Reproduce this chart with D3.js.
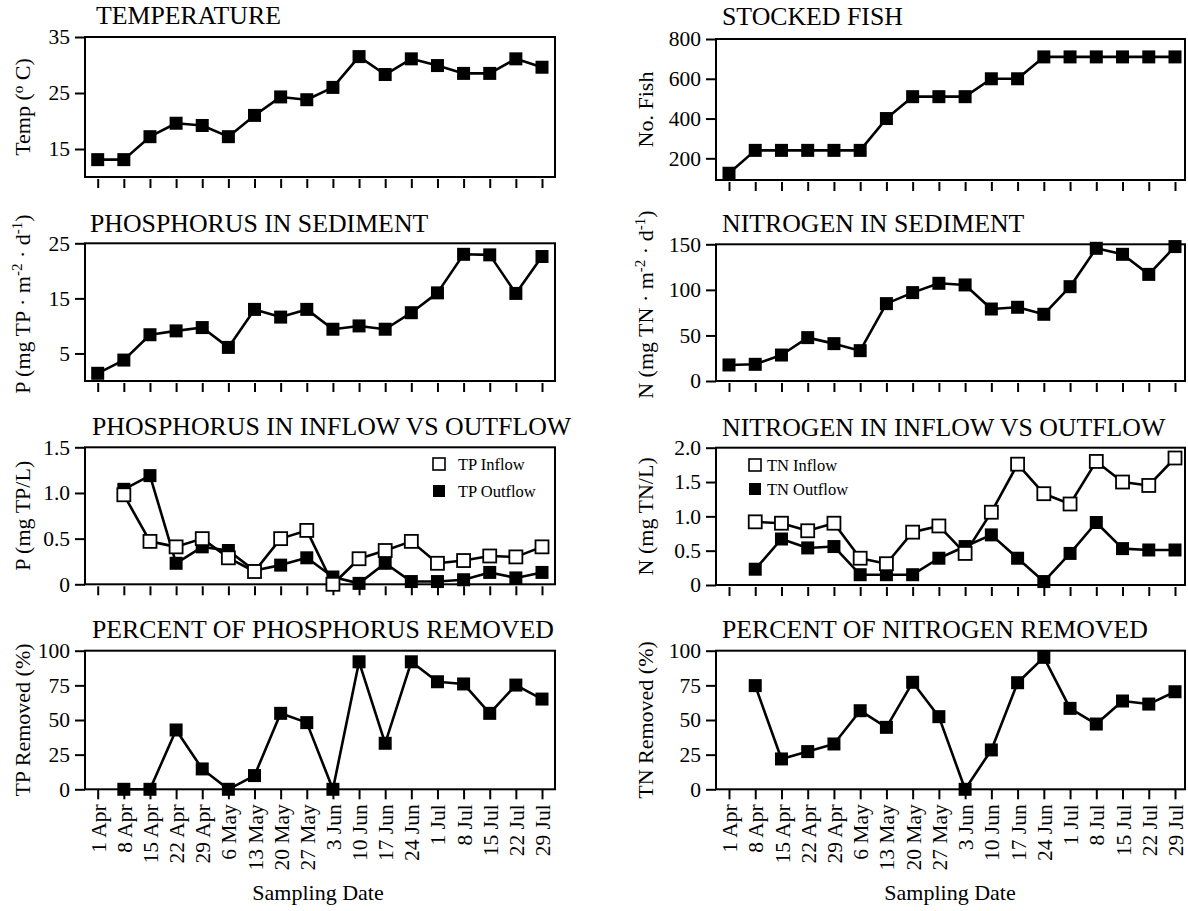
<!DOCTYPE html>
<html>
<head>
<meta charset="utf-8">
<script src="https://cdn.jsdelivr.net/npm/d3@7"></script>
<style>
  html, body { margin: 0; padding: 0; background: #fff; }
  svg { display: block; }
  text { font-family: "Liberation Serif", "Times New Roman", serif; fill: #000; }
</style>
</head>
<body>
<svg id="chart" width="1188" height="911"></svg>
<script>
// ---------- DATA ----------
const dates = ["1 Apr","8 Apr","15 Apr","22 Apr","29 Apr","6 May","13 May","20 May","27 May","3 Jun","10 Jun","17 Jun","24 Jun","1 Jul","8 Jul","15 Jul","22 Jul","29 Jul"];
const datesFrom8Apr = dates.slice(1);

const temperature = [13.1,13.1,17.2,19.6,19.2,17.2,21.0,24.3,23.8,26.0,31.5,28.3,31.1,29.9,28.5,28.5,31.1,29.6];
const stockedFish = [125,240,240,240,240,240,400,510,510,510,600,600,710,710,710,710,710,710];
const pSediment = [1.4,3.8,8.4,9.1,9.7,6.1,13.0,11.6,13.0,9.4,10.0,9.4,12.4,16.0,23.0,22.9,15.9,22.6];
const nSediment = [17.6,18.3,28.5,47.6,41,33.3,84.9,97,107.2,105.4,79,80.9,73.2,103.5,145.6,139,117,147.5];

const tpInflow  = [0.98,0.47,0.41,0.50,0.29,0.14,0.50,0.59,0.00,0.28,0.37,0.47,0.23,0.26,0.31,0.30,0.41];
const tpOutflow = [1.04,1.19,0.23,0.41,0.37,0.15,0.21,0.29,0.08,0.01,0.23,0.03,0.03,0.05,0.13,0.07,0.13];
const tnInflow  = [0.92,0.90,0.79,0.90,0.39,0.31,0.77,0.86,0.46,1.06,1.76,1.33,1.18,1.80,1.50,1.45,1.85];
const tnOutflow = [0.23,0.67,0.54,0.56,0.15,0.15,0.15,0.39,0.56,0.73,0.39,0.05,0.46,0.91,0.53,0.51,0.51];

const tpRemoved = [0,0,42.8,14.7,0,9.9,54.8,48.1,0,92,33.2,92,77.6,76,54.8,75.2,65.1];
const tnRemoved = [74.8,21.9,27.2,32.7,56.7,44.7,77.2,52.4,0,28.4,76.9,95.2,58.4,47.1,63.7,61.5,70.4];

const yTicksTemp = [15,25,35];
const yTicksFish = [200,400,600,800];
const yTicksPSed = [5,15,25];
const yTicksNSed = [0,50,100,150];
const yTicksTP = [0,0.5,1.0,1.5];
const yTicksTN = [0,0.5,1.0,1.5,2.0];
const yTicksPct = [0,25,50,75,100];

// ---------- LAYOUT ----------
const svg = d3.select("#chart");
const cols = {
  left:  { frameL: 85,  frameR: 555,  x0: 97.7, x1: 542, title: 92,  ylab: 30 },
  right: { frameL: 716, frameR: 1185, x0: 729,  x1: 1175, title: 722, ylab: 653 }
};

function fmtDec(d) { return d === 0 ? "0" : d3.format(".1f")(d); }

function panel(opts) {
  const c = cols[opts.col];
  const g = svg.append("g");
  const x = d3.scalePoint().domain(dates).range([c.x0, c.x1]);
  const y = d3.scaleLinear().domain(opts.domain).range([opts.bottom, opts.top]);

  // title
  g.append("text").attr("x", opts.titleX || c.title).attr("y", opts.titleY)
    .style("font-size", "25.8px").text(opts.title);

  // y label
  const yl = g.append("text")
    .attr("transform", `translate(${c.ylab},${(opts.top + opts.bottom) / 2 + (opts.ylabShift || 0)}) rotate(-90)`)
    .attr("text-anchor", "middle")
    .style("font-size", "22px");
  opts.ylabel(yl);

  // y axis
  const ya = g.append("g").attr("transform", `translate(${c.frameL},0)`)
    .call(d3.axisLeft(y).tickValues(opts.yTicks).tickSize(10).tickPadding(5)
      .tickFormat(opts.yFormat || d3.format("d")));
  ya.select(".domain").remove();
  ya.selectAll("line").attr("stroke", "#000").attr("stroke-width", 2);
  ya.selectAll("text").style("font-size", "21.5px").style("font-family", "Liberation Serif, serif");

  // x axis
  const isBottom = !!opts.bottomRow;
  const xa = g.append("g").attr("transform", `translate(0,${opts.bottom + (isBottom ? 0 : 2)})`)
    .call(d3.axisBottom(x).tickSize(isBottom ? 10 : 9).tickPadding(0));
  xa.select(".domain").remove();
  xa.selectAll("line").attr("stroke", "#000").attr("stroke-width", 2);
  if (isBottom) {
    xa.selectAll("text")
      .attr("transform", "rotate(-90)")
      .attr("x", -15).attr("y", 0).attr("dy", "0.35em")
      .style("text-anchor", "end")
      .style("font-size", "21.5px").style("font-family", "Liberation Serif, serif");
  } else {
    xa.selectAll("text").remove();
  }

  // frame
  g.append("rect").attr("x", c.frameL).attr("y", opts.top)
    .attr("width", c.frameR - c.frameL).attr("height", opts.bottom - opts.top)
    .attr("fill", "none").attr("stroke", "#000").attr("stroke-width", 2);

  // series
  const line = d3.line().x(d => x(d.date)).y(d => y(d.v));
  const ms = 13;
  opts.series.forEach(s => {
    const pts = s.values.map((v, i) => ({ date: s.dates[i], v }));
    g.append("path").datum(pts).attr("d", line)
      .attr("fill", "none").attr("stroke", "#000").attr("stroke-width", 2.6)
      .attr("stroke-linejoin", "round");
    g.selectAll(null).data(pts).enter().append("rect")
      .attr("x", d => x(d.date) - ms / 2).attr("y", d => y(d.v) - ms / 2)
      .attr("width", ms).attr("height", ms)
      .attr("fill", s.open ? "#fff" : "#000")
      .attr("stroke", "#000").attr("stroke-width", s.open ? 1.8 : 0);
  });

  // legend
  if (opts.legend) {
    opts.legend.forEach(l => {
      const ls = 12;
      g.append("rect").attr("x", l.x - ls / 2).attr("y", l.y - ls / 2)
        .attr("width", ls).attr("height", ls)
        .attr("fill", l.open ? "#fff" : "#000").attr("stroke", "#000").attr("stroke-width", l.open ? 1.6 : 0);
      g.append("text").attr("x", l.tx).attr("y", l.y).attr("dy", "0.35em")
        .style("font-size", "16.5px").text(l.label);
    });
  }
  return g;
}

// Row 1
panel({ col: "left", title: "TEMPERATURE", titleX: 96, titleY: 24, top: 37, bottom: 177, domain: [10, 35],
  yTicks: yTicksTemp,
  ylabel: t => { t.append("tspan").text("Temp ("); t.append("tspan").attr("dy", "-7").style("font-size", "15px").text("o");
                 t.append("tspan").attr("dy", "7").text(" C)"); },
  series: [{ dates: dates, values: temperature }] });
panel({ col: "right", title: "STOCKED FISH", titleY: 25, top: 39, bottom: 180, domain: [91, 800],
  yTicks: yTicksFish,
  ylabel: t => t.text("No. Fish"),
  series: [{ dates: dates, values: stockedFish }] });

// Row 2
panel({ col: "left", title: "PHOSPHORUS IN SEDIMENT", titleX: 90, titleY: 232, top: 243.3, bottom: 381, domain: [0, 25],
  yTicks: yTicksPSed, ylabShift: -8,
  ylabel: t => { t.append("tspan").text("P (mg TP \u00B7 m");
                 t.append("tspan").attr("dy", "-8").style("font-size", "15px").text("-2");
                 t.append("tspan").attr("dy", "8").text(" \u00B7 d");
                 t.append("tspan").attr("dy", "-8").style("font-size", "15px").text("-1");
                 t.append("tspan").attr("dy", "8").text(")"); },
  series: [{ dates: dates, values: pSediment }] });
panel({ col: "right", title: "NITROGEN IN SEDIMENT", titleY: 232, top: 244.3, bottom: 381, domain: [0, 150],
  yTicks: yTicksNSed, ylabShift: -8,
  ylabel: t => { t.append("tspan").text("N (mg TN \u00B7 m");
                 t.append("tspan").attr("dy", "-8").style("font-size", "15px").text("-2");
                 t.append("tspan").attr("dy", "8").text(" \u00B7 d");
                 t.append("tspan").attr("dy", "-8").style("font-size", "15px").text("-1");
                 t.append("tspan").attr("dy", "8").text(")"); },
  series: [{ dates: dates, values: nSediment }] });

// Row 3
panel({ col: "left", title: "PHOSPHORUS IN INFLOW VS OUTFLOW", titleY: 435, top: 447.3, bottom: 584.3, domain: [0, 1.5],
  yTicks: yTicksTP, yFormat: fmtDec,
  ylabel: t => t.text("P (mg TP/L)"),
  series: [{ dates: datesFrom8Apr, values: tpOutflow, open: false },
           { dates: datesFrom8Apr, values: tpInflow, open: true }],
  legend: [{ x: 439, y: 464, tx: 458, label: "TP Inflow", open: true },
           { x: 439, y: 491, tx: 458, label: "TP Outflow", open: false }] });
panel({ col: "right", title: "NITROGEN IN INFLOW VS OUTFLOW", titleY: 435.5, top: 447.7, bottom: 585, domain: [0, 2],
  yTicks: yTicksTN, yFormat: fmtDec,
  ylabel: t => t.text("N (mg TN/L)"),
  series: [{ dates: datesFrom8Apr, values: tnOutflow, open: false },
           { dates: datesFrom8Apr, values: tnInflow, open: true }],
  legend: [{ x: 755, y: 465, tx: 767, label: "TN Inflow", open: true },
           { x: 755, y: 489, tx: 767, label: "TN Outflow", open: false }] });

// Row 4
panel({ col: "left", title: "PERCENT OF PHOSPHORUS REMOVED", titleY: 638, top: 650.7, bottom: 789.3, domain: [0, 100],
  yTicks: yTicksPct, bottomRow: true,
  ylabel: t => t.text("TP Removed (%)"),
  series: [{ dates: datesFrom8Apr, values: tpRemoved }] });
panel({ col: "right", title: "PERCENT OF NITROGEN REMOVED", titleY: 638, top: 650.7, bottom: 789.3, domain: [0, 100],
  yTicks: yTicksPct, bottomRow: true,
  ylabel: t => t.text("TN Removed (%)"),
  series: [{ dates: datesFrom8Apr, values: tnRemoved }] });

// x-axis titles
svg.append("text").attr("x", 318).attr("y", 900).attr("text-anchor", "middle")
  .style("font-size", "22px").text("Sampling Date");
svg.append("text").attr("x", 950).attr("y", 900).attr("text-anchor", "middle")
  .style("font-size", "22px").text("Sampling Date");
</script>
</body>
</html>
